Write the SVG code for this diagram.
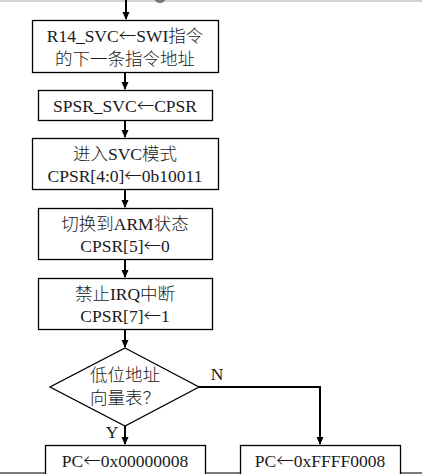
<svg xmlns="http://www.w3.org/2000/svg" width="422" height="474" viewBox="0 0 422 474">
<style>
.box{fill:#fff;stroke:#000;stroke-width:1.3}
.t{font-family:"Liberation Serif","Noto Sans CJK SC",serif;font-size:17.5px;font-weight:300;fill:#1a1a1a;text-anchor:middle}
.a{font-family:"Noto Sans CJK SC",sans-serif}
.c{stroke:#000;stroke-width:2;fill:none}
</style>
<defs>
<marker id="ah" markerWidth="8" markerHeight="8" refX="7" refY="4" orient="auto" markerUnits="userSpaceOnUse">
<path d="M0,0.5 L8,4 L0,7.5 Z" fill="#000"/>
</marker>
</defs>
<rect x="0" y="0" width="422" height="474" fill="#fff"/>
<line x1="0" y1="1" x2="422" y2="1" stroke="#d4d4d4" stroke-width="2"/>
<ellipse cx="160" cy="0" rx="5" ry="3" fill="#777"/>
<line x1="0" y1="473" x2="422" y2="473" stroke="#7a7a7a" stroke-width="2"/>

<g id="connectors">
<line class="c" x1="126" y1="0" x2="126" y2="19" marker-end="url(#ah)"/>
<line class="c" x1="125" y1="72" x2="125" y2="89" marker-end="url(#ah)"/>
<line class="c" x1="125" y1="120" x2="125" y2="137" marker-end="url(#ah)"/>
<line class="c" x1="125" y1="189" x2="125" y2="207" marker-end="url(#ah)"/>
<line class="c" x1="125" y1="259" x2="125" y2="277" marker-end="url(#ah)"/>
<line class="c" x1="125" y1="329" x2="125" y2="347" marker-end="url(#ah)"/>
<line class="c" x1="125" y1="426" x2="125" y2="444" marker-end="url(#ah)"/>
<polyline class="c" points="199,387 320,387 320,444" marker-end="url(#ah)"/>
<text class="t" x="217" y="380">N</text>
<text class="t" x="112" y="438">Y</text>
</g>

<g id="n1">
<rect class="box" x="32.5" y="20.5" width="186" height="52"/>
<text class="t" x="125" y="42">R14_SVC<tspan class="a">←</tspan>SWI指令</text>
<text class="t" x="125" y="65">的下一条指令地址</text>
</g>
<g id="n2">
<rect class="box" x="38.5" y="90.5" width="174" height="30"/>
<text class="t" x="125" y="112">SPSR_SVC<tspan class="a">←</tspan>CPSR</text>
</g>
<g id="n3">
<rect class="box" x="32.5" y="138.5" width="186" height="51"/>
<text class="t" x="125" y="160">进入SVC模式</text>
<text class="t" x="125" y="182">CPSR[4:0]<tspan class="a">←</tspan>0b10011</text>
</g>
<g id="n4">
<rect class="box" x="38.5" y="208.5" width="174" height="51"/>
<text class="t" x="125" y="230">切换到ARM状态</text>
<text class="t" x="125" y="252">CPSR[5]<tspan class="a">←</tspan>0</text>
</g>
<g id="n5">
<rect class="box" x="38.5" y="278.5" width="174" height="51"/>
<text class="t" x="125" y="300">禁止IRQ中断</text>
<text class="t" x="125" y="322">CPSR[7]<tspan class="a">←</tspan>1</text>
</g>
<g id="d1">
<polygon class="box" points="125,348 199,387 125,426 50,387"/>
<text class="t" x="125" y="381">低位地址</text>
<text class="t" x="125" y="404">向量表？</text>
</g>
<g id="n6">
<rect class="box" x="45.5" y="445.5" width="160" height="40"/>
<text class="t" x="125" y="467">PC<tspan class="a">←</tspan>0x00000008</text>
</g>
<g id="n7">
<rect class="box" x="240.5" y="445.5" width="160" height="40"/>
<text class="t" x="320" y="467">PC<tspan class="a">←</tspan>0xFFFF0008</text>
</g>
</svg>
